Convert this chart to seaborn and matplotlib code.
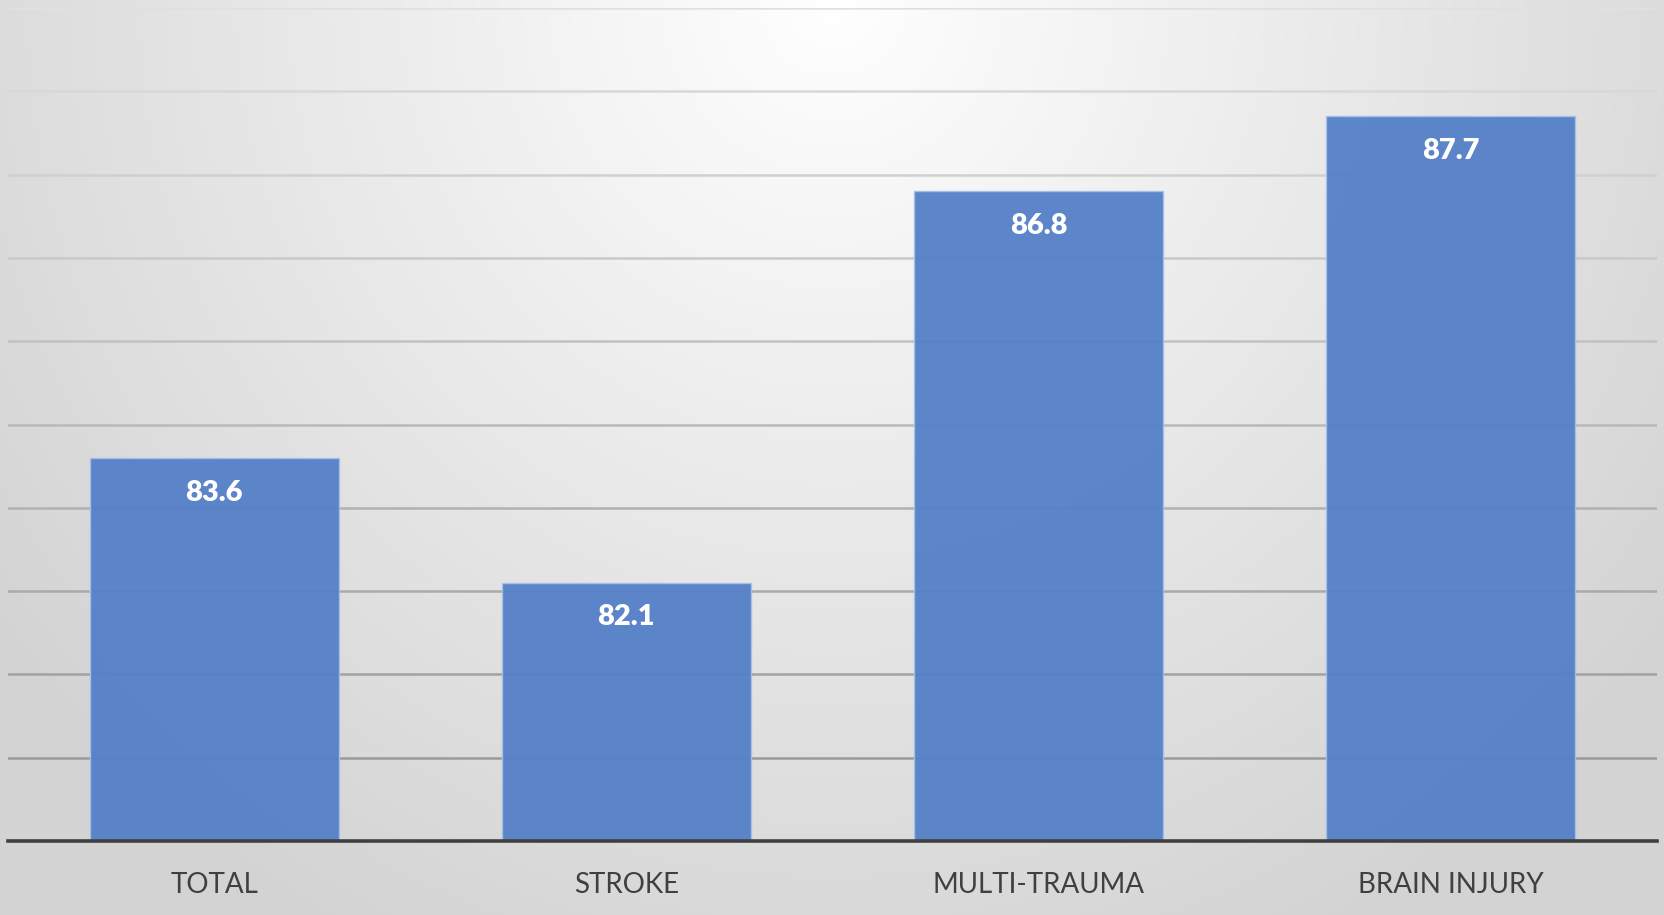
import numpy as np
import pandas as pd
import matplotlib
matplotlib.use("Agg")
import matplotlib.pyplot as plt
from matplotlib.ticker import MultipleLocator
from matplotlib.colors import to_rgb
import seaborn as sns

# === Data ===
categories = ["TOTAL", "STROKE", "MULTI-TRAUMA", "BRAIN INJURY"]
values = [83.6, 82.1, 86.8, 87.7]
y_min, y_max = 79, 89

df = pd.DataFrame({"group": categories, "score": values})

# === Style ===
sns.set_theme(style="white")
plt.rcParams["font.family"] = ["Lato", "DejaVu Sans"]

fig = plt.figure(figsize=(16.65, 9.15), dpi=100)

# radial grey gradient background, brightest at top centre
bg = fig.add_axes([0, 0, 1, 1], zorder=-10)
h, w = 915, 1665
yy, xx = np.mgrid[0:h, 0:w]
r = np.sqrt(((xx - w * 0.5) / (w * 0.62)) ** 2 + ((yy - 0) / (h * 1.15)) ** 2)
r = np.clip(r, 0, 1)
shade = 1.0 - 0.17 * r
bg.imshow(np.dstack([shade, shade, shade]), aspect="auto", extent=[0, 1, 0, 1])
bg.axis("off")

ax = fig.add_axes([8 / 1665, 74 / 915, 1649 / 1665, 833 / 915])
ax.patch.set_alpha(0)

sns.barplot(data=df, x="group", y="score", color="#5580C8", width=0.604,
            saturation=1, alpha=0.95, edgecolor="#a8bfe6", linewidth=1,
            ax=ax, zorder=3)

ax.set_ylim(y_min, y_max)
ax.set_xlim(-0.5, len(categories) - 0.5)
ax.yaxis.set_major_locator(MultipleLocator(1))

# gridlines darken toward the bottom
top_c, bot_c = np.array(to_rgb("#e0e0e0")), np.array(to_rgb("#9a9a9a"))
for t in ax.get_yticks():
    if y_min < t <= y_max:
        f = (t - (y_min + 1)) / (y_max - y_min - 1)
        ax.axhline(t, color=bot_c + (top_c - bot_c) * f, lw=1.8, zorder=1)

for s in ["top", "right", "left"]:
    ax.spines[s].set_visible(False)
ax.spines["bottom"].set_color("#404040")
ax.spines["bottom"].set_linewidth(2.6)
ax.spines["bottom"].set_zorder(5)

ax.set_yticks([])
ax.set_xlabel("")
ax.set_ylabel("")
ax.tick_params(axis="x", length=0, pad=22, labelsize=20, labelcolor="#404040")

# value labels inside bars
for p, v in zip(ax.patches, values):
    ax.annotate(f"{v:.1f}", (p.get_x() + p.get_width() / 2, p.get_height()),
                xytext=(0, -25), textcoords="offset points",
                ha="center", va="center", color="white",
                fontsize=21, fontweight="heavy", zorder=6)

fig.savefig("out.png", dpi=100)
plt.close()
